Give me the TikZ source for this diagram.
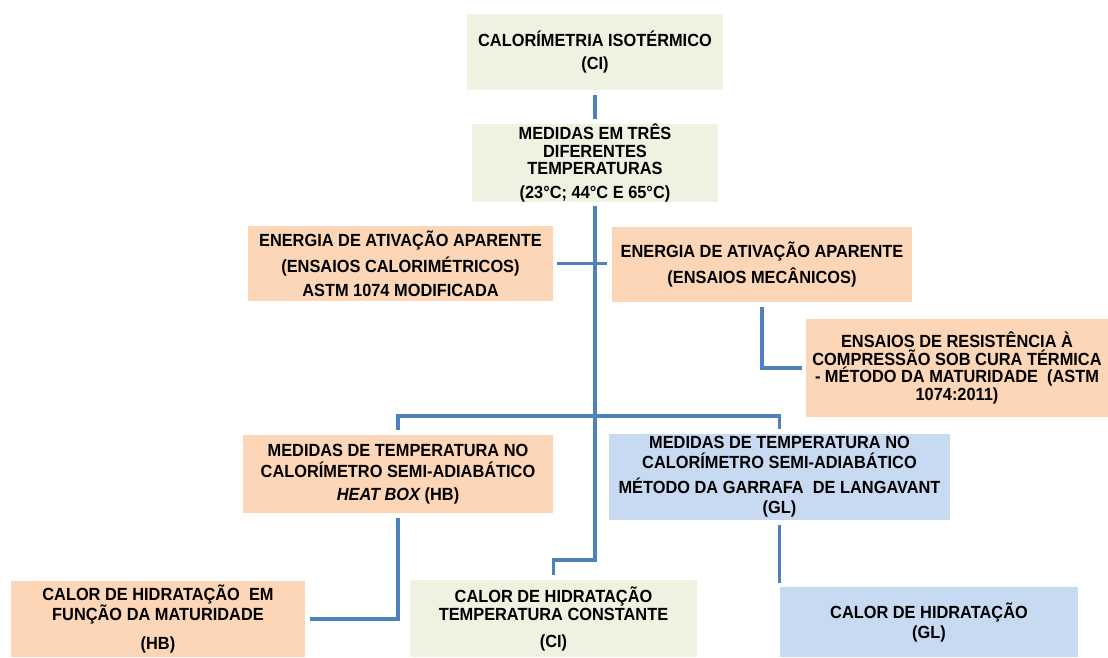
\documentclass[tikz,border=0pt]{standalone}
\usepackage{fontspec}
\setmainfont{Liberation Sans}[FakeStretch=0.93]
\definecolor{boxgreen}{RGB}{237,242,225}
\definecolor{boxpeach}{RGB}{252,214,182}
\definecolor{boxblue}{RGB}{200,218,242}
\definecolor{linkblue}{RGB}{79,129,189}
\tikzset{
  box/.style={rectangle, inner sep=0pt, align=center,
    font=\fontsize{17.6}{17.5}\selectfont\bfseries},
  greenbox/.style={box, fill=boxgreen},
  peachbox/.style={box, fill=boxpeach},
  bluebox/.style={box, fill=boxblue},
  link/.style={draw=linkblue, line width=3.2pt}
}
\begin{document}
\begin{tikzpicture}[x=1pt, y=-1pt]
\useasboundingbox (0,0) rectangle (1108,657);

% boxes
\node[greenbox, minimum width=256pt, minimum height=76pt] (ci) at (595,52)
  {CALORÍMETRIA ISOTÉRMICO\\[5.5pt](CI)};
\node[greenbox, minimum width=246pt, minimum height=78pt] (ms) at (595,163)
  {MEDIDAS EM TRÊS\\DIFERENTES\\TEMPERATURAS\\[6.5pt](23°C; 44°C E 65°C)};
\node[peachbox, minimum width=305pt, minimum height=75pt] (eaL) at (400.5,263.5)
  {ENERGIA DE ATIVAÇÃO APARENTE\\[6pt](ENSAIOS CALORIMÉTRICOS)\\[6pt]ASTM 1074 MODIFICADA};
\node[peachbox, minimum width=300pt, minimum height=75pt] (eaM) at (762,264.5)
  {ENERGIA DE ATIVAÇÃO APARENTE\\[6.5pt](ENSAIOS MECÂNICOS)};
\node[peachbox, minimum width=302pt, minimum height=98pt] (res) at (957,368)
  {ENSAIOS DE RESISTÊNCIA À\\COMPRESSÃO SOB CURA TÉRMICA\\- MÉTODO DA MATURIDADE\ \ (ASTM\\1074:2011)};
\node[peachbox, minimum width=310pt, minimum height=78pt] (hb) at (398,474)
  {MEDIDAS DE TEMPERATURA NO\\[3.5pt]CALORÍMETRO SEMI-ADIABÁTICO\\[5.5pt]{\itshape HEAT BOX} (HB)};
\node[bluebox, minimum width=341pt, minimum height=86pt] (gl) at (779.5,477)
  {MEDIDAS DE TEMPERATURA NO\\[2.5pt]CALORÍMETRO SEMI-ADIABÁTICO\\[7.5pt]MÉTODO DA GARRAFA\ \ DE LANGAVANT\\[2.5pt](GL)};
\node[peachbox, minimum width=294pt, minimum height=76pt] (calM) at (158,619)
  {CALOR DE HIDRATAÇÃO\ \ EM\\FUNÇÃO DA MATURIDADE\\[11.5pt](HB)};
\node[greenbox, minimum width=287pt, minimum height=77pt] (ciC) at (553.5,618.5)
  {CALOR DE HIDRATAÇÃO\\[0.5pt]TEMPERATURA CONSTANTE\\[9.5pt](CI)};
\node[bluebox, minimum width=298pt, minimum height=70pt] (calG) at (929,622)
  {CALOR DE HIDRATAÇÃO\\[2.5pt](GL)};

% junctions on the main trunk
\coordinate (j1) at (595,416);
\coordinate (j2) at (595,560);

% connectors
\draw[link] ([yshift=-5pt]ci.south) -- ([yshift=5pt]ms.north);
\draw[link] ([yshift=-4pt]ms.south) -- (j2) -| ([yshift=5pt]ciC.north);
\draw[link] ([xshift=4pt]eaL.east) -- ([xshift=-5pt]eaM.west |- eaL.east);
\draw[link] ([yshift=-5pt]eaM.south) |- ([xshift=-4pt]res.west);
\draw[link] ([yshift=5pt]hb.north) |- (j1) -| ([yshift=5pt]gl.north);
\draw[link] ([yshift=-5pt]hb.south) |- ([xshift=5pt]calM.east);
\draw[link] ([yshift=-5pt]gl.south) -- ([yshift=4pt]gl.south |- calG.north);
\end{tikzpicture}
\end{document}
